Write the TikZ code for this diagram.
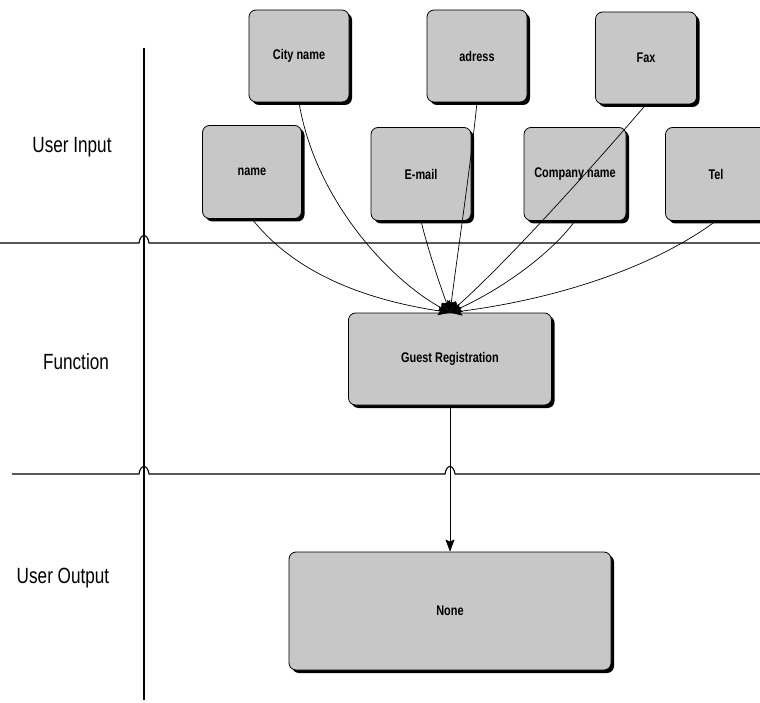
\documentclass[tikz,border=0pt]{standalone}
\usepackage{fontspec}
\setmainfont{Liberation Sans}
\newfontfamily\narrowfont{Liberation Sans}[FakeStretch=0.78]
\usetikzlibrary{arrows.meta,shadows}

\begin{document}
\begin{tikzpicture}[x=1pt,y=-1pt,
  box/.style={draw=black, line width=0.8pt, rounded corners=7pt, fill=black!22,
    general shadow={fill=black, shadow xshift=3pt, shadow yshift=-3pt},
    inner sep=0pt, font=\narrowfont\bfseries\fontsize{14}{16}\selectfont},
  lane/.style={line width=1.1pt},
  link/.style={line width=0.7pt, -{Stealth[length=12pt,width=9pt,inset=2pt]}},
  lanelabel/.style={font=\narrowfont\fontsize{22}{26}\selectfont}]

\useasboundingbox (0,0) rectangle (760,703);
\clip (0,0) rectangle (760,703);

% swim-lane separators with line hops
\draw[lane] (144,48) -- (144,700);
\draw[lane] (0,243) -- (139,243) .. controls (140.5,233) and (147.5,233) .. (149,243) -- (760,243);
\draw[lane] (12,474) -- (139,474) .. controls (140.5,464) and (147.5,464) .. (149,474)
  -- (445,474) .. controls (446.5,464) and (453.5,464) .. (455,474) -- (760,474);

% lane titles
\node[lanelabel] (lin)  at (72,147) {User Input};
\node[lanelabel] (lfn)  at (76,362) {Function};
\node[lanelabel] (lout) at (63,578) {User Output};

% user input fields
\node[box, minimum width=100pt, minimum height=92pt] (city)    at (299,56)    {City name};
\node[box, minimum width=100pt, minimum height=92pt] (adress)  at (477,56)    {adress};
\node[box, minimum width=101pt, minimum height=92pt] (fax)     at (646,58)    {Fax};
\node[box, minimum width=99pt,  minimum height=93pt] (name)    at (252,172)   {name};
\node[box, minimum width=100pt, minimum height=93pt] (email)   at (421,174)   {E-mail};
\node[box, minimum width=102pt, minimum height=93pt] (company) at (575,174)   {Company name};
\node[box, minimum width=101pt, minimum height=93pt] (tel)     at (716,174)   {Tel};

% function and output
\node[box, minimum width=203pt, minimum height=92pt]  (guest) at (450,359) {Guest Registration};
\node[box, minimum width=322pt, minimum height=118pt] (none)  at (450,611) {None};

% data flows into the registration function
\draw[link] (name.south)    .. controls (300,280) and (380,302) .. (guest.north);
\draw[link] (city.south)    .. controls (315,200) and (390,280) .. (guest.north);
\draw[link] (adress.south)  .. controls (470,170) and (458,250) .. (guest.north);
\draw[link] (email.south)   .. controls (428,250) and (440,285) .. (guest.north);
\draw[link] (fax.south)     .. controls (620,135) and (520,250) .. (guest.north);
\draw[link] (company.south) .. controls (550,255) and (500,290) .. (guest.north);
\draw[link] (tel.south)     .. controls (650,270) and (550,300) .. (guest.north);

% output flow
\draw[link] (guest.south) -- (none.north);
\end{tikzpicture}
\end{document}
